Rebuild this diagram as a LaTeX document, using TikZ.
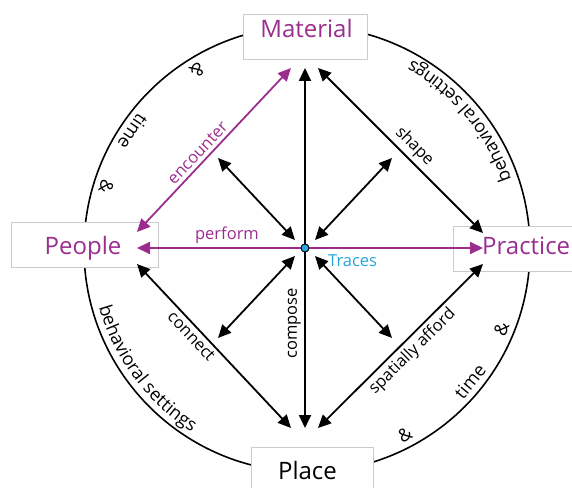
\documentclass[tikz,border=0pt]{standalone}
\usepackage{fontspec}
\setmainfont{Open Sans}
\usetikzlibrary{arrows.meta,positioning,calc,decorations.text}
\definecolor{Plum}{HTML}{9B2D8E}
\definecolor{Sky}{HTML}{29A3DC}
\definecolor{Frame}{HTML}{CCCCCC}
\newcommand\titlesize{\fontsize{24}{28}\selectfont}
\newcommand\verbsize{\fontsize{16.5}{19}\selectfont}
\newcommand\ringsize{\fontsize{18}{21}\selectfont}
\tikzset{
  frame/.style={draw=Frame,fill=white,line width=.9pt,minimum height=45pt,inner sep=0pt},
  title/.style={font=\titlesize,inner sep=0pt,anchor=base},
  link/.style={{Triangle[length=13pt,width=12pt]}-{Triangle[length=13pt,width=12pt]},line width=1.8pt},
  plumlink/.style={link,color=Plum},
  verb/.style={font=\verbsize,sloped},
  ringtxt/.style={font=\ringsize,inner sep=0pt},
  ringarc/.style={decorate,decoration={text along path,text align=center,text={|\ringsize|#1}}},
  dot/.style={circle,draw=black,fill=Sky,line width=.8pt,minimum size=8pt,inner sep=0pt}
}
\begin{document}
\begin{tikzpicture}[x=1pt,y=1pt]
  \useasboundingbox (0,0) rectangle (572,487);
  \clip (0,0) rectangle (572,487);
  \coordinate (ring) at (307,238);
  \draw[line width=1.6pt] (ring) circle[radius=223];

  % frames
  \node[frame,minimum width=124pt] (matbox) at (305,450.5) {};
  \node[frame,minimum width=147pt] (peobox) at (84.5,242.5) {};
  \node[frame,minimum width=147pt] (prabox) at (526.5,238) {};
  \node[frame,minimum width=122pt] (plbox) at (312,17.5) {};

  % ring words
  \foreach \a/\t [count=\i] in {121.6/\&,146/time,162.8/\&,297.8/\&,320.9/time,337.7/\&}
    \node[ringtxt,rotate=\a+90] (rw\i) at ($(ring)+(\a:210)$) {\t};
  \path[ringarc=behavioral settings] ($(ring)+(186.7:216)$) arc[start angle=186.7,end angle=246.7,radius=216];
  \path[ringarc=behavioral settings] ($(ring)+(9.9:216)$) arc[start angle=9.9,end angle=69.9,radius=216];

  % arrow ends
  \node[dot] (tr) at (305,239) {};
  \coordinate (m1) at (291,419);
  \coordinate (m2) at (305,419);
  \coordinate (m3) at (318,419);
  \coordinate (pl1) at (291,59);
  \coordinate (pl2) at (305,59);
  \coordinate (pl3) at (318,59);
  \coordinate (pe1) at (137,255);
  \coordinate (pe2) at (137,239);
  \coordinate (pe3) at (137,223);
  \coordinate (pr1) at (483,254);
  \coordinate (pr2) at (483,239);
  \coordinate (pr3) at (483,223);

  \draw[link] (pl2) -- node[verb,above,pos=.29] {compose} (m2);
  \draw[link] (m3) -- node[verb,above,pos=.53] {shape} (pr1);
  \draw[link] (pe3) -- node[verb,below,pos=.4] {connect} (pl1);
  \draw[link] (pl3) -- node[verb,below,pos=.52] {spatially afford} (pr3);
  \draw[plumlink] (pe1) -- node[verb,above,pos=.44] {encounter} (m1);
  \draw[plumlink] (pe2) -- node[verb,above,pos=.26] {perform} (pr2);
  \foreach \sx in {-1,1}
    \foreach \sy in {-1,1}
      \draw[link] ($(tr)+(\sx*10,\sy*8)$) -- ($(tr)+(\sx*87,\sy*90)$);
  \node[dot] (tr) at (305,239) {};
  \node[font=\verbsize,text=Sky,anchor=base west,inner sep=0pt] (trlbl) at (328,220) {Traces};

  % titles
  \node[title,text=Plum] (mat) at (306.5,449.5) {Material};
  \node[title,text=Plum] (peo) at (83,232) {People};
  \node[title,text=Plum,anchor=base west] (pra) at (482,232) {Practice};
  \node[title] (pl) at (307.5,8) {Place};
\end{tikzpicture}
\end{document}
